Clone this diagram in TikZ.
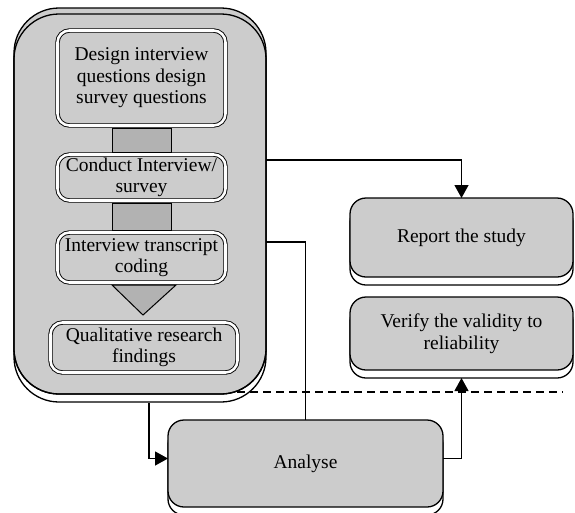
\documentclass[tikz,border=0pt]{standalone}
\usepackage{fontspec}
\setmainfont{Liberation Serif}
\usepackage{tikz}
\usetikzlibrary{arrows.meta}
\usetikzlibrary{calc}

\definecolor{boxgray}{RGB}{204,204,204}
\definecolor{shaftgray}{RGB}{178,178,178}

\tikzset{
    stage/.style={draw, double, double distance=2.6pt, line width=0.9pt, fill=boxgray,
        rounded corners=12pt, align=center, inner sep=0pt, outer sep=0pt},
    task/.style={draw, line width=1.3pt, fill=boxgray, rounded corners=16pt, align=center,
        inner sep=0pt, outer sep=0pt,
        preaction={draw, fill=white, transform canvas={yshift=-8pt}}},
    shaft/.style={draw, line width=1pt, fill=shaftgray},
    link/.style={line width=1.2pt},
    headarrow/.style={-{Triangle[length=13pt,width=14pt]}},
}

\begin{document}
\begin{tikzpicture}[x=1pt, y=-1pt, font=\fontsize{19.5}{21.5}\selectfont]
        \useasboundingbox (0,0) rectangle (575,512);
        \node[task, rounded corners=45pt, minimum width=252pt, minimum height=386pt] (frame) at (140,201) {};
        \draw[line width=1.3pt, rounded corners=45pt] (frame.south west) rectangle ([yshift=-6pt]frame.north east);
        \coordinate (box1s) at (141.5,128);
        \coordinate (box2n) at (141.5,152);
        \coordinate (box2s) at (141.5,203);
        \coordinate (box3n) at (141.5,230);
        \coordinate (box3s) at (143,285);
        \draw[shaft] ([xshift=-29.5pt]box1s) rectangle ([xshift=29.5pt]box2n);
        \draw[shaft] ([xshift=-29.5pt]box2s) rectangle ([xshift=29.5pt]box3n);
        \draw[shaft] ([xshift=-31pt]box3s) -- ([xshift=33pt]box3s) -- ([yshift=-30pt]box3s) -- cycle;
        \node[stage, minimum width=168pt, minimum height=95pt] (box1) at (141.5,78)
            {Design interview\\questions design\\survey questions};
        \node[stage, minimum width=168pt, minimum height=46pt] (box2) at (141.5,177.5)
            {Conduct Interview/\\survey};
        \node[stage, minimum width=168pt, minimum height=50pt] (box3) at (141.5,257.5)
            {Interview transcript\\coding};
        \node[stage, minimum width=187pt, minimum height=50pt] (box4) at (144,347.5)
            {Qualitative research\\findings};
        \node[task, minimum width=223pt, minimum height=79pt] (report) at (461.5,237.5) {Report the study};
        \node[task, minimum width=223pt, minimum height=73pt] (verify) at (461.5,333.5)
            {Verify the validity to\\reliability};
        \node[task, minimum width=275pt, minimum height=87pt] (analyse) at (305.5,463.5) {Analyse};
        \coordinate (dashL) at (237,392);
        \coordinate (dashR) at (563,392);
        \draw[line width=1.4pt, dash pattern=on 8pt off 5pt] (dashL) -- (dashR);
        \draw[link, headarrow] ([yshift=41pt]frame.east) -| (report.north);
        \draw[link] ([yshift=-41pt]frame.east) -| (analyse.north);
        \draw[link, headarrow] ([xshift=9pt,yshift=-9pt]frame.south) |- ([yshift=5pt]analyse.west);
        \draw[link, headarrow, shorten >=8pt] ([yshift=5pt]analyse.east) -| (verify.south);
    \end{tikzpicture}
\end{document}
